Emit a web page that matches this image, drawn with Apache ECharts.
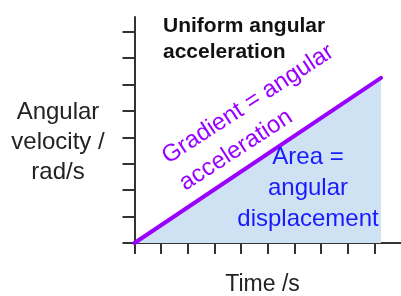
<!DOCTYPE html>
<html>
<head>
<meta charset="utf-8">
<script src="https://cdn.jsdelivr.net/npm/echarts@6/dist/echarts.min.js"></script>
<style>
  html, body { margin: 0; padding: 0; background: #fff; }
  #chart { width: 401px; height: 296px; }
</style>
</head>
<body>
<div id="chart"></div>
<script>
// Data
var timeValues = [0, 9.25];
var velocityValues = [0, 6.25];
var xTickValues = [0, 1, 2, 3, 4, 5, 6, 7, 8, 9];
var yTickValues = [0, 1, 2, 3, 4, 5, 6, 7, 8];
var titleText = 'Uniform angular\nacceleration';
var yLabelText = 'Angular\nvelocity /\nrad/s';
var xLabelText = 'Time /s';
var gradientText = 'Gradient = angular\nacceleration';
var areaText = 'Area =\nangular\ndisplacement';

var FONT = '"Liberation Sans", Arial, sans-serif';
var chart = echarts.init(document.getElementById('chart'), null, { renderer: 'canvas' });
var deg = Math.PI / 180;

var option = {
  animation: false,
  backgroundColor: '#ffffff',
  grid: { left: 134.5, right: 0, top: 17, bottom: 53, containLabel: false },
  xAxis: {
    type: 'value', min: 0, max: 10, interval: 1,
    axisLine: { show: true, onZero: false, lineStyle: { color: '#333', width: 2 } },
    axisTick: { show: true, inside: false, length: 11, customValues: xTickValues, lineStyle: { color: '#333', width: 2 } },
    axisLabel: { show: false },
    splitLine: { show: false }
  },
  yAxis: {
    type: 'value', min: 0, max: 8.55, interval: 1,
    axisLine: { show: true, onZero: false, lineStyle: { color: '#333', width: 2 } },
    axisTick: { show: true, inside: false, length: 12, customValues: yTickValues, lineStyle: { color: '#333', width: 2 } },
    axisLabel: { show: false },
    splitLine: { show: false }
  },
  series: [{
    type: 'line',
    data: timeValues.map(function (t, i) { return [t, velocityValues[i]]; }),
    symbol: 'none',
    lineStyle: { color: '#9900ff', width: 4, cap: 'round' },
    areaStyle: { color: '#cfe2f3', opacity: 1 },
    z: 1
  }],
  graphic: [
    { type: 'text', x: 163, y: 39, z: 10,
      style: { text: titleText, font: 'bold 21px ' + FONT, fill: '#111', align: 'left', verticalAlign: 'middle', lineHeight: 26 } },
    { type: 'text', x: 58, y: 142, z: 10,
      style: { text: yLabelText, font: '24px ' + FONT, fill: '#222', align: 'center', verticalAlign: 'middle', lineHeight: 30 } },
    { type: 'text', x: 262.5, y: 285, z: 10,
      style: { text: xLabelText, font: '23px ' + FONT, fill: '#222', align: 'center', verticalAlign: 'middle' } },
    { type: 'text', x: 308, y: 188, z: 10,
      style: { text: areaText, font: '24px ' + FONT, fill: '#1a1aff', align: 'center', verticalAlign: 'middle', lineHeight: 31 } },
    { type: 'text', x: 173, y: 172, rotation: 33 * deg, z: 10,
      style: { text: gradientText, font: '24px ' + FONT, fill: '#9900ff', align: 'left', verticalAlign: 'middle', lineHeight: 32 } }
  ]
};
chart.setOption(option);
</script>
</body>
</html>
